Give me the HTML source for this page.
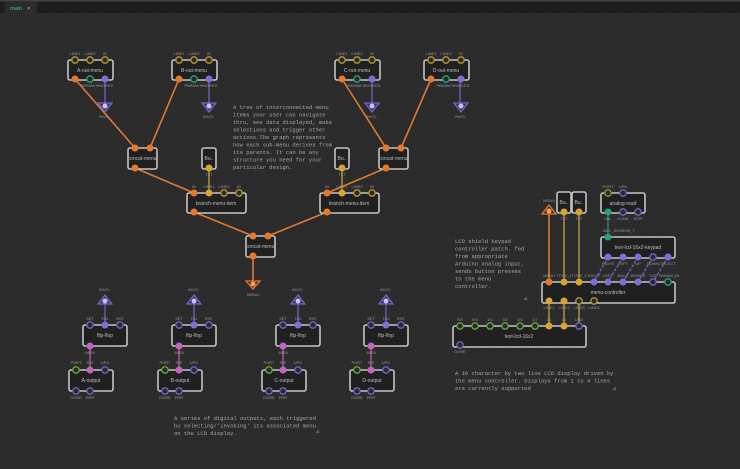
<!DOCTYPE html>
<html><head><meta charset="utf-8"><style>
html,body{margin:0;padding:0;background:#2b2b2b;}
svg{display:block}
.n{fill:#202020;stroke:#c4c4c4;stroke-width:1.6}
.t{fill:#bdbdbd;font:5px "Liberation Sans",sans-serif;text-anchor:middle}
.l{fill:#9a9a9a;font:4px "Liberation Sans",sans-serif;text-anchor:middle}
.c{fill:#a8a8a8;font:5.5px "Liberation Mono",monospace}
.o{fill:#e5792b}.y{fill:#d7a531}.yo{fill:#2a2a2a;stroke:#b9962c;stroke-width:1.3}
.g{fill:#24a07a}.go{fill:#2a2a2a;stroke:#62a83c;stroke-width:1.3}
.p{fill:#7c6fd6}.po{fill:#2a2a2a;stroke:#6f63c4;stroke-width:1.3}
.k{fill:#c462c4}
.wo{stroke:#df7a33;stroke-width:1.6;fill:none}
.wp{stroke:#7466c8;stroke-width:1.2;fill:none}
.wy{stroke:#c4a040;stroke-width:1.3;fill:none}
.wk{stroke:#b86ab8;stroke-width:1.2;fill:none}
</style></head><body>
<svg width="740" height="469" viewBox="0 0 740 469" xmlns="http://www.w3.org/2000/svg">
<defs><pattern id="gr" width="15" height="15" patternUnits="userSpaceOnUse"><path d="M15 0V15H0" fill="none" stroke="#333" stroke-width="0.6"/></pattern></defs>
<rect width="740" height="469" fill="#2b2b2b"/>
<rect y="12" width="740" height="457" fill="url(#gr)"/>
<rect width="740" height="13" fill="#1d1d1d"/>
<rect x="0" y="0" width="740" height="1.5" fill="#444"/>
<rect x="5" y="2" width="32" height="11" fill="#2b2b2b"/>
<text x="10" y="10" style="fill:#4fb6c9;font:5.5px 'Liberation Sans',sans-serif">main</text>
<text x="27" y="10" style="fill:#ccc;font:5.5px 'Liberation Sans',sans-serif">×</text>

<!-- wires top tree -->
<path class="wo" d="M75 79L135 148M179 79L150 148M342 79L386 148M431 79L401 148M135 168L194 193M386 168L327 193M194 212L253 236M327 212L268 236M253 256L253 283"/>
<path class="wp" d="M105 79V106M209 79V106M372 79V106M460 79V106"/>
<path class="wy" d="M209 168V193M342 168V193"/>

<!-- out menus -->
<g id="om">
<rect class="n" x="68" y="60" width="45" height="20" rx="2"/>
<text class="t" x="90" y="72">A-out-menu</text>
<text class="l" x="75" y="55">LINE1</text><text class="l" x="90" y="55">LINE2</text><text class="l" x="105" y="55">ID</text>
<circle class="yo" cx="75" cy="60" r="3.2"/><circle class="yo" cx="90" cy="60" r="3.2"/><circle class="yo" cx="105" cy="60" r="3.2"/>
<circle class="o" cx="75" cy="79" r="3.5"/><circle class="go" cx="90" cy="79" r="3.2" style="stroke:#24a07a"/><circle class="p" cx="105" cy="79" r="3.5"/>
<text class="l" x="97" y="87">PARAM INVOKED</text>
<path d="M98 103L112 103L105 112Z" fill="#3a3360" stroke="#7466c8" stroke-width="1.3"/><circle cx="105" cy="106" r="2.5" fill="#c9c2f0"/>
<text class="l" x="105" y="118">INVO..</text>
</g>
<use href="#om" x="104"/><use href="#om" x="267"/><use href="#om" x="356"/>
<rect x="174" y="66" width="40" height="9" fill="#202020"/><text class="t" x="194" y="72">B-out-menu</text>
<rect x="337" y="66" width="40" height="9" fill="#202020"/><text class="t" x="357" y="72">C-out-menu</text>
<rect x="426" y="66" width="40" height="9" fill="#202020"/><text class="t" x="446" y="72">D-out-menu</text>

<!-- concat menus -->
<g id="cm">
<rect class="n" x="128" y="148" width="29" height="21" rx="2"/>
<text class="t" x="142" y="160">concat-menu</text>
<circle class="o" cx="135" cy="148" r="3.5"/><circle class="o" cx="150" cy="148" r="3.5"/><circle class="o" cx="135" cy="168" r="3.5"/>
</g>
<use href="#cm" x="251"/><use href="#cm" x="118" y="88"/>

<!-- bus -->
<g id="bu">
<rect class="n" x="202" y="148" width="14" height="21" rx="2"/>
<text class="t" x="209" y="160">Bu..</text>
<circle class="y" cx="209" cy="168" r="3.5"/>
<text class="l" x="209" y="176">TXT</text>
</g>
<use href="#bu" x="133"/>

<!-- branch -->
<g id="br">
<rect class="n" x="187" y="193" width="59" height="20" rx="2"/>
<text class="t" x="216" y="205">branch-menu-item</text>
<text class="l" x="194" y="188">IN</text><text class="l" x="209" y="188">LINE1</text><text class="l" x="224" y="188">LINE2</text><text class="l" x="239" y="188">ID</text>
<circle class="o" cx="194" cy="193" r="3.5"/><circle class="y" cx="209" cy="193" r="3.5"/><circle class="yo" cx="224" cy="193" r="3.2"/><circle class="yo" cx="239" cy="193" r="3.2"/>
<circle class="o" cx="194" cy="212" r="3.5"/>
</g>
<use href="#br" x="133"/>

<path d="M246 281L260 281L253 289Z" fill="#4a2c18" stroke="#df7a33" stroke-width="1.3"/><circle cx="253" cy="284" r="2.5" fill="#f0a060"/>
<text class="l" x="253" y="296">MENU</text>

<text class="c"><tspan x="233" y="109">A tree of interconnected menu</tspan><tspan x="233" y="116.5">items your user can navigate</tspan><tspan x="233" y="124">thru, see data displayed, make</tspan><tspan x="233" y="131.5">selections and trigger other</tspan><tspan x="233" y="139">actions.The graph represents</tspan><tspan x="233" y="146.5">how each sub-menu derives from</tspan><tspan x="233" y="154">its parents. It can be any</tspan><tspan x="233" y="161.5">structure you need for your</tspan><tspan x="233" y="169">particular design.</tspan></text>

<!-- flip flops and outputs -->
<g id="ff">
<path class="wp" d="M105 301V325"/><path class="wk" d="M90 346V369"/>
<path d="M98 304L112 304L105 295Z" fill="#3a3360" stroke="#7466c8" stroke-width="1.3"/><circle cx="105" cy="301" r="2.5" fill="#c9c2f0"/>
<text class="l" x="105" y="291">INVO..</text>
<rect class="n" x="83" y="325" width="44" height="21" rx="2"/>
<text class="t" x="105" y="337">flip-flop</text>
<text class="l" x="90" y="320">SET</text><text class="l" x="105" y="320">TGL</text><text class="l" x="120" y="320">RST</text>
<circle class="po" cx="90" cy="325" r="3.2"/><circle class="p" cx="105" cy="325" r="3.5"/><circle class="po" cx="120" cy="325" r="3.2"/>
<circle class="k" cx="90" cy="346" r="3.5"/><text class="l" x="90" y="354">MEM</text>
<rect class="n" x="69" y="370" width="44" height="21" rx="2"/>
<text class="l" x="76" y="364">PORT</text><text class="l" x="90" y="364">SIG</text><text class="l" x="105" y="364">UPD</text>
<circle class="go" cx="76" cy="370" r="3.2"/><circle class="k" cx="90" cy="370" r="3.5"/><circle class="po" cx="105" cy="370" r="3.2"/>
<circle class="po" cx="76" cy="391" r="3.2"/><circle class="po" cx="90" cy="391" r="3.2"/>
<text class="l" x="76" y="399">DONE</text><text class="l" x="90" y="399">ERR</text>
</g>
<use href="#ff" x="89"/><use href="#ff" x="193"/><use href="#ff" x="281"/>
<text class="t" x="91" y="382">A-output</text>
<text class="t" x="180" y="382">B-output</text>
<text class="t" x="284" y="382">C-output</text>
<text class="t" x="372" y="382">D-output</text>

<text class="c"><tspan x="174" y="420">A series of digital outputs, each triggered</tspan><tspan x="174" y="427.5">by selecting/'invoking' its associated menu</tspan><tspan x="174" y="435">on the LCD display.</tspan></text>
<path d="M316 433L319 430M318 433L319 432" stroke="#888" stroke-width="0.8"/>

<!-- right side -->
<path class="wo" d="M549 212V282"/>
<path class="wy" d="M564 212V282M579 212V282M564 301V326M579 301V326" />
<path class="wy" d="M549 301V326"/>
<path d="M608 212V238" stroke="#24a07a" stroke-width="1.2"/>
<path class="wp" stroke-dasharray="3,1.5" d="M608 257L594 282M623 257L608 282M638 257L623 282M653 257L638 282M668 257L653 282"/>

<path d="M542 214L556 214L549 205Z" fill="#4a2c18" stroke="#df7a33" stroke-width="1.3"/><circle cx="549" cy="211" r="2.5" fill="#f0a060"/>
<text class="l" x="549" y="202">MENU</text>
<rect class="n" x="557" y="192" width="14" height="21" rx="2"/><text class="t" x="564" y="204">Bu..</text>
<rect class="n" x="572" y="192" width="14" height="21" rx="2"/><text class="t" x="579" y="204">Bu..</text>
<circle class="y" cx="564" cy="212" r="3.5"/><circle class="y" cx="579" cy="212" r="3.5"/>
<text class="l" x="564" y="220">TXT</text><text class="l" x="579" y="220">TXT</text>

<rect class="n" x="601" y="193" width="44" height="20" rx="2"/><text class="t" x="623" y="205">analog-read</text>
<text class="l" x="608" y="188">PORT</text><text class="l" x="623" y="188">UPD</text>
<circle class="go" cx="608" cy="193" r="3.2"/><circle class="po" cx="623" cy="193" r="3.2"/>
<circle class="g" cx="608" cy="212" r="3.5"/><circle class="po" cx="623" cy="212" r="3.2"/><circle class="po" cx="638" cy="212" r="3.2"/>
<text class="l" x="608" y="220">VAL</text><text class="l" x="623" y="220">DONE</text><text class="l" x="638" y="220">ERR</text>
<text class="l" x="619" y="232">ADC_SENSOR_T</text>

<rect class="n" x="601" y="237" width="74" height="21" rx="2"/><text class="t" x="638" y="249">text-lcd-16x2-keypad</text>
<circle class="g" cx="608" cy="237" r="3.5"/>
<circle class="p" cx="608" cy="257" r="3.5"/><circle class="p" cx="623" cy="257" r="3.5"/><circle class="p" cx="638" cy="257" r="3.5"/><circle class="po" cx="653" cy="257" r="3.2"/><circle class="p" cx="668" cy="257" r="3.5"/>
<text class="l" x="608" y="265">RIGHT</text><text class="l" x="623" y="265">LEFT</text><text class="l" x="638" y="265">UP</text><text class="l" x="653" y="265">DOWN</text><text class="l" x="668" y="265">SELECT</text>

<rect class="n" x="542" y="282" width="133" height="21" rx="2"/><text class="t" x="608" y="294">menu-controller</text>
<text class="l" x="549" y="277">MENU</text><text class="l" x="564" y="277">TITLE_1</text><text class="l" x="579" y="277">TITLE_2</text><text class="l" x="594" y="277">RIGHT</text><text class="l" x="608" y="277">LEFT</text><text class="l" x="623" y="277">BACK</text><text class="l" x="638" y="277">INVOKE</text><text class="l" x="653" y="277">TOP</text><text class="l" x="669" y="277">PARAM_IN</text>
<circle class="o" cx="549" cy="282" r="3.5"/><circle class="y" cx="564" cy="282" r="3.5"/><circle class="y" cx="579" cy="282" r="3.5"/><circle class="p" cx="594" cy="282" r="3.5"/><circle class="p" cx="608" cy="282" r="3.5"/><circle class="p" cx="623" cy="282" r="3.5"/><circle class="p" cx="638" cy="282" r="3.5"/><circle class="po" cx="653" cy="282" r="3.2"/><circle class="go" cx="668" cy="282" r="3.2" style="stroke:#24a07a"/>
<circle class="y" cx="549" cy="301" r="3.5"/><circle class="y" cx="564" cy="301" r="3.5"/><circle class="yo" cx="579" cy="301" r="3.2"/><circle class="yo" cx="594" cy="301" r="3.2"/>
<text class="l" x="549" y="309">LINE1</text><text class="l" x="564" y="309">LINE2</text><text class="l" x="579" y="309">LINE3</text><text class="l" x="594" y="309">LINE4</text>

<rect class="n" x="453" y="326" width="133" height="21" rx="2"/><text class="t" x="519" y="338">text-lcd-16x2</text>
<text class="l" x="460" y="321">RS</text><text class="l" x="475" y="321">EN</text><text class="l" x="490" y="321">D4</text><text class="l" x="505" y="321">D5</text><text class="l" x="520" y="321">D6</text><text class="l" x="535" y="321">D7</text><text class="l" x="549" y="321">L1</text><text class="l" x="564" y="321">L2</text><text class="l" x="579" y="321">UPD</text>
<circle class="go" cx="460" cy="326" r="3.2"/><circle class="go" cx="475" cy="326" r="3.2"/><circle class="go" cx="490" cy="326" r="3.2"/><circle class="go" cx="505" cy="326" r="3.2"/><circle class="go" cx="520" cy="326" r="3.2"/><circle class="go" cx="535" cy="326" r="3.2"/><circle class="y" cx="549" cy="326" r="3.5"/><circle class="y" cx="564" cy="326" r="3.5"/><circle class="po" cx="579" cy="326" r="3.2"/>
<circle class="po" cx="460" cy="345" r="3.2"/><text class="l" x="460" y="353">DONE</text>

<text class="c"><tspan x="455" y="243">LCD shield keypad</tspan><tspan x="455" y="250.5">controller patch. fed</tspan><tspan x="455" y="258">from appropriate</tspan><tspan x="455" y="265.5">Arduino analog input,</tspan><tspan x="455" y="273">sends button presses</tspan><tspan x="455" y="280.5">to the menu</tspan><tspan x="455" y="288">controller.</tspan></text>
<path d="M524 300L527 297M526 300L527 299" stroke="#888" stroke-width="0.8"/>
<text class="c"><tspan x="455" y="375">A 16 character by two line LCD display driven by</tspan><tspan x="455" y="382.5">the menu controller. Displays from 1 to 4 lines</tspan><tspan x="455" y="390">are currently supported</tspan></text>
<path d="M613 390L616 387M615 390L616 389" stroke="#888" stroke-width="0.8"/>
</svg>
</body></html>
